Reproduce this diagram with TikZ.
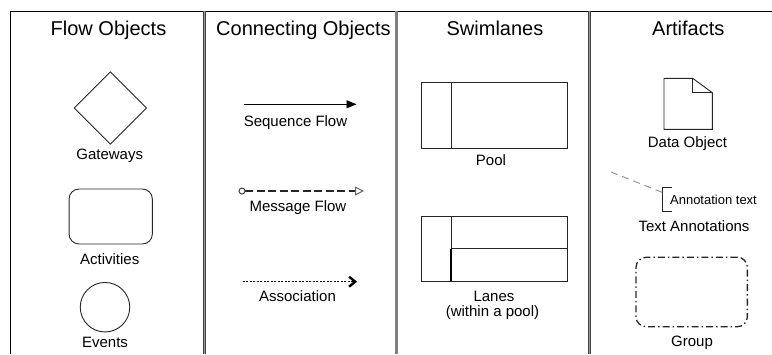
\documentclass[tikz,border=0pt]{standalone}
\usepackage{fontspec}
\setmainfont{Liberation Sans}
\usetikzlibrary{arrows.meta,shapes.geometric}
\begin{document}
\begin{tikzpicture}[x=1pt,y=-1pt,
  title/.style={anchor=base, font=\fontsize{20}{22}\selectfont, inner sep=0pt},
  lbl/.style={anchor=base, font=\fontsize{15}{18}\selectfont, inner sep=0pt},
  small/.style={anchor=base, font=\fontsize{13}{15}\selectfont, inner sep=0pt},
  shp/.style={draw=black!85, line width=0.9pt, inner sep=0pt},
  frame/.style={line width=1pt},
  dbl/.style={line width=0.8pt, draw=black!75, double=black!40, double distance=1.4pt},
  bar/.style={line width=3.3pt, draw=black!50}]
\useasboundingbox (0,0) rectangle (772,354);
% frame
\draw[frame] (10,354) -- (10,11) -- (772,11);
\draw[dbl] (204.2,11) -- (204.2,354);
\draw[bar] (396.6,11) -- (396.6,354);
\draw[dbl] (589.7,11) -- (589.7,354);
% titles
\node[title] (t1) at (108.5,35.3) {Flow Objects};
\node[title] (t2) at (303.5,35.3) {Connecting Objects};
\node[title] (t3) at (495,35.3) {Swimlanes};
\node[title] (t4) at (688.3,35.3) {Artifacts};
% flow objects
\node[shp, diamond, minimum width=72.6pt, minimum height=72.6pt] (gw) at (110.3,108) {};
\node[lbl] (gwl) at (109.7,159.7) {Gateways};
\node[shp, rounded corners=10pt, minimum width=83.3pt, minimum height=55pt] (act) at (110.7,216.5) {};
\node[lbl] (actl) at (109.7,264) {Activities};
\node[shp, circle, minimum size=49.5pt] (ev) at (105,307.2) {};
\node[lbl] (evl) at (105,347.5) {Events};
% connecting objects
\coordinate (sfs) at (244.3,104.3);
\coordinate (sfe) at (356.5,104.3);
\draw[line width=0.9pt, -{Triangle[length=10pt,width=8pt]}] (sfs) -- (sfe);
\node[lbl] (sfl) at (295.5,126.7) {Sequence Flow};
\coordinate (mfs) at (238.5,191);
\coordinate (mfe) at (364,191);
\draw[line width=1.1pt, draw=black!85, dash pattern=on 8pt off 3.5pt,
  {Circle[open,length=7pt,width=7pt,color=black!75,line width=1pt]}-{Triangle[open,length=9pt,width=9pt,color=black!60,line width=1pt]}] (mfs) -- (mfe);
\node[lbl] (mfl) at (298,211.7) {Message Flow};
\coordinate (as) at (242.7,281.7);
\coordinate (ae) at (357,281.7);
\draw[line width=1.1pt, dash pattern=on 2pt off 1.5pt,
  -{Straight Barb[length=6pt,width=10pt,line width=2.4pt]}] (as) -- (ae);
\node[lbl] (al) at (297.5,301.7) {Association};
% swimlanes
\node[shp, minimum width=146.3pt, minimum height=66.4pt] (pool) at (494.2,115.5) {};
\draw[draw=black!85, line width=0.9pt] ([xshift=31pt]pool.north west) -- ([xshift=31pt]pool.south west);
\node[lbl] (pooll) at (491,165.7) {Pool};
\node[shp, minimum width=146.3pt, minimum height=65pt] (lanes) at (494.2,248.5) {};
\draw[draw=black!85, line width=0.9pt] ([xshift=31pt]lanes.north west) -- ([xshift=31pt]lanes.west) -- (lanes.east);
\draw[draw=black, line width=1.6pt] ([xshift=30.5pt]lanes.west) -- ([xshift=30.5pt]lanes.south west);
\node[lbl] (lanesl) at (494,301.7) {Lanes};
\node[lbl] (lanesl2) at (492.5,316) {(within a pool)};
% artifacts
\draw[draw=black!85, line width=0.9pt] (664,78.3) -- (692.7,78.3) -- (712.3,92.7) -- (712.3,129.3) -- (664,129.3) -- cycle;
\draw[draw=black!85, line width=0.9pt] (692.7,78.3) -- (692.7,92.7) -- (712.3,92.7);
\node[lbl] (dol) at (687.5,147.7) {Data Object};
\coordinate (ans) at (611,172);
\coordinate (bt) at (672,187.7);
\coordinate (bb) at (672,211);
\coordinate (bm) at (662.5,192.5);
\draw[draw=black!85, line width=0.9pt] (bt) -| (bm) |- (bb);
\draw[draw=black!45, line width=0.9pt, dash pattern=on 7pt off 5pt] (ans) -- (bm);
\node[small] (ant) at (713.5,204.3) {Annotation text};
\node[lbl] (tal) at (694,231.7) {Text Annotations};
\node[draw=black!85, line width=1.3pt, rounded corners=10pt, dash pattern=on 7pt off 3pt on 1.5pt off 3pt, minimum width=111.3pt, minimum height=69.4pt, inner sep=0pt] (grp) at (691.7,292) {};
\node[lbl] (grpl) at (692,346.7) {Group};
\end{tikzpicture}
\end{document}
